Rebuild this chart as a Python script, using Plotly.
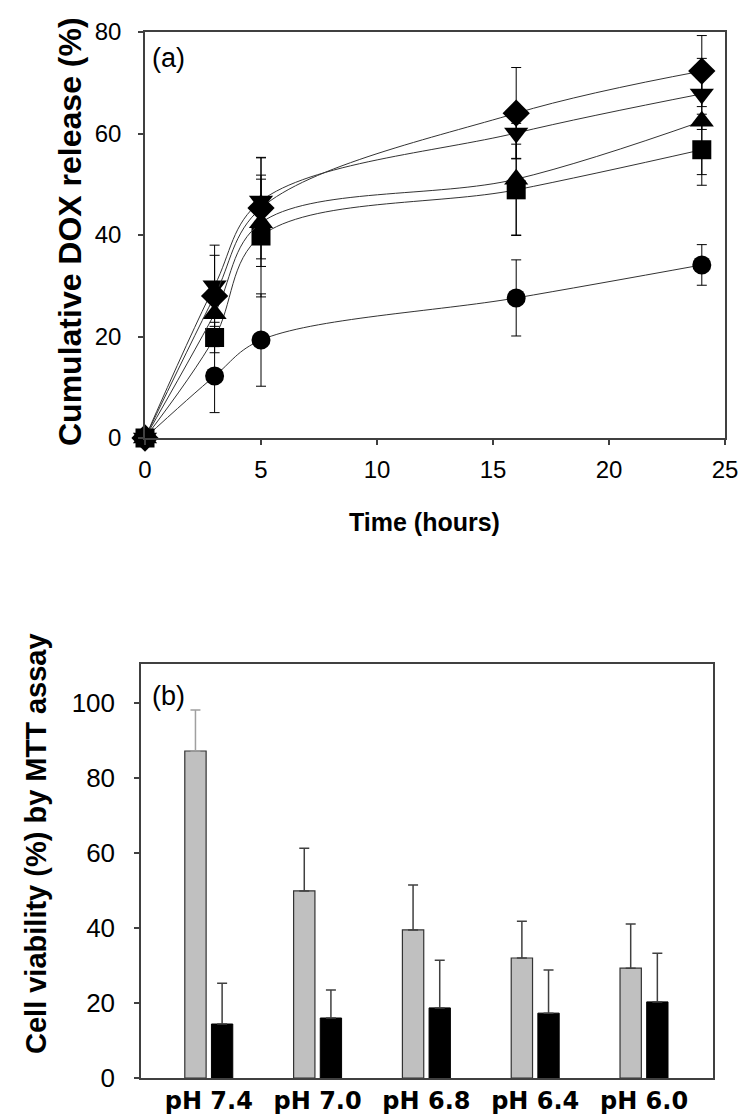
import plotly.graph_objects as go

# ---------------- data: panel (a) ----------------
time_h = [0, 3, 5, 16, 24]
rel_circle = [0, 12.2, 19.3, 27.6, 34.1]
err_circle = [0, 7.2, 9.1, 7.5, 4.0]
rel_square = [0, 19.8, 39.8, 48.9, 56.8]
err_square = [0, 3.0, 12.0, 9.0, 7.0]
rel_tri_up = [0, 24.5, 42.4, 51.0, 62.4]
err_tri_up = [0, 2.5, 8.6, 11.0, 10.5]
rel_tri_dn = [0, 30.0, 46.7, 60.1, 67.8]
err_tri_dn = [0, 6.0, 8.5, 5.0, 7.0]
rel_diamond = [0, 28.0, 45.3, 64.0, 72.3]
err_diamond = [0, 10.0, 10.0, 9.0, 7.0]

# ---------------- data: panel (b) ----------------
ph_labels = ["pH 7.4", "pH 7.0", "pH 6.8", "pH 6.4", "pH 6.0"]
via_gray = [87.2, 49.9, 39.5, 32.0, 29.3]
via_gray_err = [10.9, 11.4, 12.0, 9.8, 11.8]
via_black = [14.4, 16.0, 18.7, 17.3, 20.3]
via_black_err = [10.9, 7.5, 12.7, 11.5, 13.0]

W, H = 750, 1120
AX = "#404040"
FONT = "Liberation Sans, Arial, sans-serif"

fig = go.Figure()

series = [
    (rel_circle, err_circle, "circle", 19),
    (rel_square, err_square, "square", 19),
    (rel_tri_up, err_tri_up, "triangle-up", 21),
    (rel_tri_dn, err_tri_dn, "triangle-down", 21),
    (rel_diamond, err_diamond, "diamond", 21),
]
for ys, es, sym, sz in series:
    fig.add_trace(go.Scatter(
        x=time_h, y=ys, mode="lines+markers",
        line=dict(color="#333333", width=1, shape="spline", smoothing=1),
        marker=dict(symbol=sym, size=sz, color="black", line=dict(width=0)),
        error_y=dict(type="data", array=es, visible=True, color="black",
                     thickness=1, width=5),
        cliponaxis=False, showlegend=False, xaxis="x", yaxis="y",
    ))

# gray bars: first category has a lighter error bar, so split into two traces in one offset group
fig.add_trace(go.Bar(
    x=ph_labels[:1], y=via_gray[:1], offsetgroup="gray",
    marker=dict(color="#c0c0c0", line=dict(color="#333333", width=1.2)),
    error_y=dict(type="data", symmetric=False, array=via_gray_err[:1],
                 arrayminus=[0], color="#a0a0a0", thickness=1.5, width=5),
    showlegend=False, xaxis="x2", yaxis="y2",
))
fig.add_trace(go.Bar(
    x=ph_labels[1:], y=via_gray[1:], offsetgroup="gray",
    marker=dict(color="#c0c0c0", line=dict(color="#333333", width=1.2)),
    error_y=dict(type="data", symmetric=False, array=via_gray_err[1:],
                 arrayminus=[0] * (len(via_gray) - 1), color="#404040", thickness=1.5, width=5),
    showlegend=False, xaxis="x2", yaxis="y2",
))
fig.add_trace(go.Bar(
    x=ph_labels, y=via_black, offsetgroup="black",
    marker=dict(color="black", line=dict(color="black", width=1)),
    error_y=dict(type="data", symmetric=False, array=via_black_err,
                 arrayminus=[0] * len(via_black), color="#404040", thickness=1.5, width=5),
    showlegend=False, xaxis="x2", yaxis="y2",
))

common = dict(showline=True, mirror=True, linecolor=AX, linewidth=1.5,
              showgrid=False, zeroline=False, automargin=False,
              tickcolor=AX, ticklen=5, tickwidth=1.5)
xcommon = {k: v for k, v in common.items() if k not in ("ticklen", "tickwidth", "tickcolor")}

fig.update_layout(
    width=W, height=H,
    margin=dict(l=0, r=0, t=0, b=0),
    paper_bgcolor="white", plot_bgcolor="white",
    font=dict(family=FONT, color="black"),
    barmode="group", bargap=0.51, bargroupgap=0.2,
    xaxis=dict(domain=[137 / W, 717 / W], anchor="y", range=[0, 25],
               tickvals=[0, 5, 10, 15, 20, 25], ticks="outside",
               ticklabelstandoff=4,
               tickfont=dict(size=24, family=FONT), **common),
    yaxis=dict(domain=[1 - 430 / H, 1 - 24 / H], anchor="x", range=[0, 80],
               tickvals=[0, 20, 40, 60, 80], ticks="outside",
               ticklabelstandoff=12,
               tickfont=dict(size=24, family=FONT), **common),
    xaxis2=dict(domain=[133 / W, 705 / W], anchor="y2", range=[-0.623, 4.634],
                type="category", ticks="",
                tickfont=dict(size=24, family="DejaVu Sans, sans-serif", weight="bold"),
                **xcommon),
    yaxis2=dict(domain=[1 - 1070 / H, 1 - 656 / H], anchor="x2", range=[0, 110.4],
                tickvals=[0, 20, 40, 60, 80, 100], ticks="outside",
                ticklabelstandoff=14,
                tickfont=dict(size=26, family=FONT), **common),
)

def ann(text, x, y, size, bold=False, angle=0, xanchor="center"):
    fig.add_annotation(
        text=f"<b>{text}</b>" if bold else text,
        x=x / W, y=1 - y / H, xref="paper", yref="paper",
        xanchor=xanchor, yanchor="middle", textangle=angle, showarrow=False,
        font=dict(size=size, family=FONT, color="black"),
    )

ann("(a)", 142, 50, 27, xanchor="left")
ann("(b)", 142, 688, 27, xanchor="left")
ann("Cumulative DOX release (%)", 62, 224, 32, bold=True, angle=-90)
ann("Time (hours)", 416, 514, 25, bold=True)
ann("Cell viability (%) by MTT assay", 28, 836, 29, bold=True, angle=-90)

fig.write_html("out.html")
